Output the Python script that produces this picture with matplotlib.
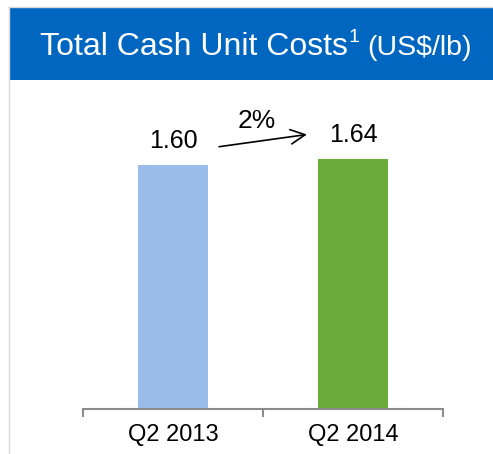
import matplotlib.pyplot as plt
from matplotlib.patches import Rectangle
from matplotlib.lines import Line2D

plt.rcParams['font.family'] = ['Liberation Sans', 'DejaVu Sans']

# data
periods = ["Q2 2013", "Q2 2014"]
costs = [1.60, 1.64]
bar_colors = ["#99BDE8", "#6BAC3B"]
change_label = "2%"

W, H = 493, 454
fig = plt.figure(figsize=(W / 100, H / 100), dpi=100)

# frame lines + blue header
fig.add_artist(Line2D([9 / W, 9 / W], [0, 1 - 7 / H], color="#D9D9D9", lw=1))
fig.add_artist(Line2D([9 / W, 1], [1 - 7 / H, 1 - 7 / H], color="#D9D9D9", lw=1))
fig.add_artist(Rectangle((9.5 / W, 1 - 80 / H), 1 - 9.5 / W, 72 / H,
                         transform=fig.transFigure, color="#0066BF", lw=0))

# title pieces chained left to right
renderer = fig.canvas.get_renderer()
base_y = 1 - 55 / H
t1 = fig.text(40 / W, base_y, "Total Cash Unit Costs", color="white",
              fontsize=23, ha="left", va="baseline")
x1 = t1.get_window_extent(renderer).x1 / W
t2 = fig.text(x1 + 1 / W, base_y + 13 / H, "1", color="white",
              fontsize=14, ha="left", va="baseline")
x2 = t2.get_window_extent(renderer).x1 / W
fig.text(x2 + 8 / W, base_y, "(US$/lb)", color="white",
         fontsize=20.5, ha="left", va="baseline")

# axes
ax = fig.add_axes([83 / W, 45 / H, 360 / W, 305 / H])
x = range(len(periods))
ax.bar(x, costs, width=0.39, color=bar_colors)
ax.set_xlim(-0.5, 1.5)
ax.set_ylim(0, 2.0)
for s in ["left", "right", "top"]:
    ax.spines[s].set_visible(False)
ax.spines["bottom"].set_color("#8C8C8C")
ax.spines["bottom"].set_linewidth(1.5)
ax.set_yticks([])
ax.set_xticks(list(x))
ax.set_xticklabels(periods, fontsize=17)
ax.tick_params(axis="x", which="major", length=0, pad=11)
ax.set_xticks([-0.5, 0.5, 1.5], minor=True)
ax.tick_params(axis="x", which="minor", length=6, width=1.5, color="#8C8C8C")

for i, v in enumerate(costs):
    ax.text(i, v + 0.08, f"{v:.2f}", ha="center", va="bottom", fontsize=18)

ax.annotate("", xy=(0.744, 1.80), xytext=(0.256, 1.72),
            arrowprops=dict(arrowstyle="->", color="black", lw=1.2,
                            mutation_scale=26, shrinkA=0, shrinkB=0))
ax.text(0.467, 1.84, change_label, ha="center", va="baseline", fontsize=19)

fig.savefig("out.png", dpi=100)
